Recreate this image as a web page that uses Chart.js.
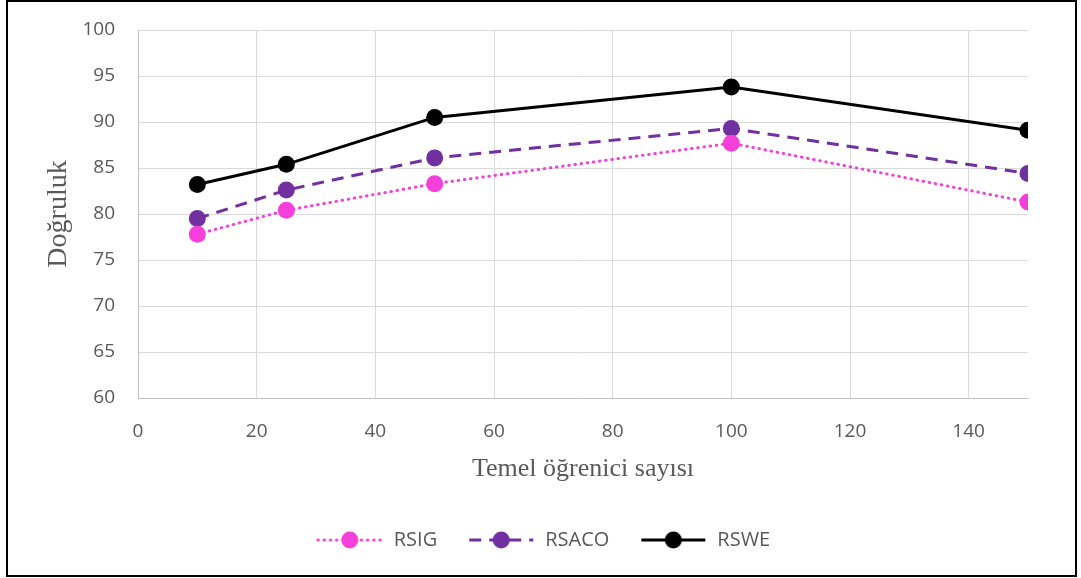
<!DOCTYPE html>
<html>
<head>
<meta charset="utf-8">
<script src="https://cdn.jsdelivr.net/npm/chart.js@4"></script>
<style>
  html, body { margin: 0; padding: 0; background: #fff; }
  canvas { display: block; }
</style>
</head>
<body>
<canvas id="chart" width="1081" height="578"></canvas>
<script>
// Data
const learnerCounts = [10, 25, 50, 100, 150];
const rsigValues = [77.8, 80.4, 83.3, 87.7, 81.3];
const rsacoValues = [79.5, 82.6, 86.1, 89.3, 84.4];
const rsweValues = [83.2, 85.4, 90.5, 93.8, 89.1];
const seriesNames = ['RSIG', 'RSACO', 'RSWE'];
const xTitle = 'Temel öğrenici sayısı';
const yTitle = 'Doğruluk';

const textColor = '#595959';
const gridColor = '#d9d9d9';
const pink = '#F43FDB';
const purple = '#7030A0';
const black = '#000000';

function toPoints(values) {
    return learnerCounts.map((x, i) => ({ x: x, y: values[i] }));
}

// small line + dot icon for the legend, like the Excel legend
function makeLegendIcon(color, dash, lineWidth, cap) {
    const c = document.createElement('canvas');
    c.width = 68;
    c.height = 20;
    const ctx = c.getContext('2d');
    ctx.strokeStyle = color;
    ctx.lineWidth = lineWidth;
    ctx.lineCap = cap;
    ctx.setLineDash(dash);
    ctx.beginPath();
    ctx.moveTo(2, 10);
    ctx.lineTo(66, 10);
    ctx.stroke();
    ctx.setLineDash([]);
    ctx.fillStyle = color;
    ctx.beginPath();
    ctx.arc(34, 10, 8.5, 0, Math.PI * 2);
    ctx.fill();
    return c;
}

const styles = [
    { color: pink, dash: [0.5, 5.7], width: 3, cap: 'round' },
    { color: purple, dash: [12, 8], width: 3, cap: 'butt' },
    { color: black, dash: [], width: 3, cap: 'butt' }
];
const icons = styles.map(s => makeLegendIcon(s.color, s.dash, s.width, s.cap));

const frameBorder = {
    id: 'frameBorder',
    afterDraw(chart) {
        const ctx = chart.ctx;
        ctx.save();
        ctx.strokeStyle = '#000';
        ctx.lineWidth = 2;
        ctx.strokeRect(7, 1, 1069, 575);
        ctx.restore();
    }
};

const allValues = [rsigValues, rsacoValues, rsweValues];

new Chart(document.getElementById('chart'), {
    type: 'line',
    data: {
        datasets: seriesNames.map((name, i) => ({
            label: name,
            data: toPoints(allValues[i]),
            borderColor: styles[i].color,
            backgroundColor: styles[i].color,
            borderWidth: styles[i].width,
            borderDash: styles[i].dash,
            borderCapStyle: styles[i].cap,
            pointRadius: 8.5,
            pointBorderWidth: 0,
            pointBackgroundColor: styles[i].color,
            tension: 0
        }))
    },
    options: {
        responsive: false,
        animation: false,
        devicePixelRatio: 1,
        layout: { padding: { left: 10, right: 5, top: 30, bottom: 18 } },
        plugins: {
            tooltip: { enabled: false },
            legend: {
                position: 'bottom',
                labels: {
                    usePointStyle: true,
                    pointStyleWidth: 68,
                    padding: 30,
                    color: textColor,
                    font: { family: 'Open Sans', size: 20 },
                    generateLabels: (chart) => chart.data.datasets.map((ds, i) => ({
                        text: ds.label,
                        pointStyle: icons[i],
                        fontColor: textColor,
                        datasetIndex: i,
                        lineWidth: 0,
                        strokeStyle: 'transparent',
                        fillStyle: 'transparent'
                    }))
                }
            }
        },
        scales: {
            x: {
                type: 'linear',
                min: 0,
                max: 150,
                ticks: {
                    stepSize: 20,
                    includeBounds: false,
                    padding: 22,
                    color: textColor,
                    font: { family: 'Open Sans', size: 19 }
                },
                grid: { color: gridColor, drawTicks: false },
                border: { color: '#bfbfbf' },
                title: {
                    display: true,
                    text: xTitle,
                    color: textColor,
                    font: { family: 'Liberation Serif', size: 26, lineHeight: 1.2 },
                    padding: { top: 0, bottom: 15 }
                },
                afterFit: (scale) => { scale.height = 102; }
            },
            y: {
                min: 60,
                max: 100,
                ticks: {
                    stepSize: 5,
                    padding: 23,
                    color: textColor,
                    font: { family: 'Open Sans', size: 19 }
                },
                grid: { color: gridColor, drawTicks: false },
                border: { color: '#bfbfbf' },
                title: {
                    display: true,
                    text: yTitle,
                    color: textColor,
                    font: { family: 'Liberation Serif', size: 28, lineHeight: 1.2 },
                    padding: { top: 32, bottom: 0 }
                },
                afterFit: (scale) => {
                    scale.width = 128;
                    scale.paddingTop = 0;
                    scale.paddingBottom = 0;
                }
            },
            // empty right-hand axis only to hold the space right of the plot
            yRight: {
                position: 'right',
                display: true,
                ticks: { display: false },
                grid: { display: false },
                border: { display: false },
                afterFit: (scale) => {
                    scale.width = 48;
                    scale.paddingTop = 0;
                    scale.paddingBottom = 0;
                }
            }
        }
    },
    plugins: [frameBorder]
});
</script>
</body>
</html>
